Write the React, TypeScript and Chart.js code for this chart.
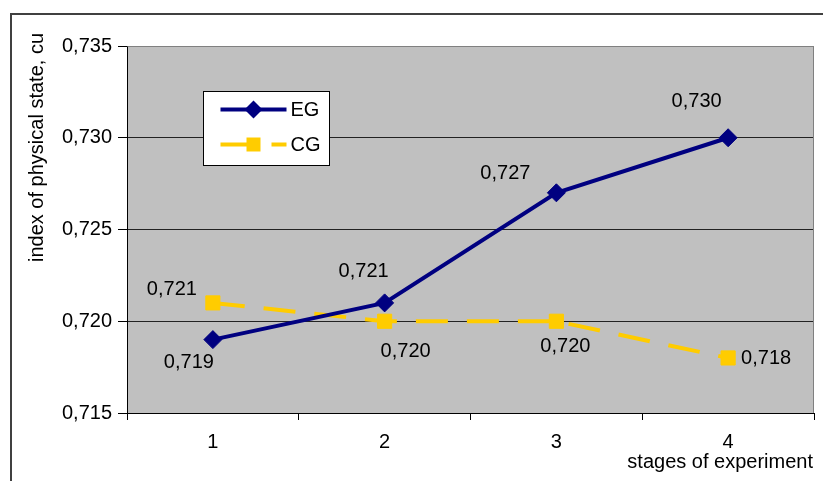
import React, { useEffect, useRef } from "react";
import { Chart, registerables } from "chart.js";

Chart.register(...registerables);

// ---- data ----
const CATEGORIES = ["1", "2", "3", "4"];
const SERIES_NAMES = ["EG", "CG"];
const EG_VALUES = [0.719, 0.721, 0.727, 0.73];
const CG_VALUES = [0.721, 0.72, 0.72, 0.718];
const Y_TICKS = [0.715, 0.72, 0.725, 0.73, 0.735];
const Y_TITLE = "index of physical state, cu";
const X_TITLE = "stages of experiment";

// ---- style ----
const FONT = '"Liberation Sans", Arial, sans-serif';
const FONT_SIZE = 20;
const EG_COLOR = "#000080";
const CG_COLOR = "#FFCC00";
const CG_DASH = [32, 19];
const EG_LABEL_OFFSETS = [[-24, 22], [-21, -32], [-51, -20.5], [-31.5, -37]];
const CG_LABEL_OFFSETS = [[-41, -14], [21, 29], [9, 24], [38, 0]];

const fmt = (v: number) => Number(v).toFixed(3).replace(".", ",");

const decor = {
  id: "decor",
  beforeDraw(chart: any) {
    const { ctx, chartArea: a } = chart;
    ctx.save();
    ctx.fillStyle = "#ffffff";
    ctx.fillRect(0, 0, chart.width, chart.height);
    // outer frame
    ctx.strokeStyle = "#404040";
    ctx.lineWidth = 2;
    ctx.beginPath();
    ctx.moveTo(3, chart.height + 10);
    ctx.lineTo(3, 6);
    ctx.lineTo(chart.width + 10, 6);
    ctx.stroke();
    // plot background
    ctx.fillStyle = "#C0C0C0";
    ctx.fillRect(a.left, a.top, a.right - a.left, a.bottom - a.top);
    ctx.restore();
  },
  beforeDatasetsDraw(chart: any) {
    const { ctx, chartArea: a } = chart;
    ctx.save();
    ctx.strokeStyle = "#808080";
    ctx.lineWidth = 1;
    ctx.beginPath();
    ctx.moveTo(Math.round(a.left) + 0.5, Math.round(a.top) + 0.5);
    ctx.lineTo(Math.round(a.right) - 0.5, Math.round(a.top) + 0.5);
    ctx.lineTo(Math.round(a.right) - 0.5, Math.round(a.bottom));
    ctx.stroke();
    ctx.restore();
  },
  afterDatasetsDraw(chart: any) {
    const { ctx, chartArea: a } = chart;
    ctx.save();
    ctx.font = `${FONT_SIZE}px ${FONT}`;
    ctx.fillStyle = "#000";
    // data labels
    const offs = [EG_LABEL_OFFSETS, CG_LABEL_OFFSETS];
    chart.data.datasets.forEach((ds: any, i: number) => {
      const meta = chart.getDatasetMeta(i);
      meta.data.forEach((pt: any, j: number) => {
        const [dx, dy] = offs[i][j];
        ctx.textAlign = "center";
        ctx.textBaseline = "middle";
        ctx.fillText(fmt(ds.data[j]), pt.x + dx, pt.y + dy + 1);
      });
    });

    // legend
    const bx = Math.round(a.left + 76) + 0.5;
    const by = Math.round(a.top + 45) + 0.5;
    const bw = 126;
    const bh = 74;
    ctx.fillStyle = "#fff";
    ctx.fillRect(bx, by, bw, bh);
    ctx.strokeStyle = "#000";
    ctx.lineWidth = 1;
    ctx.strokeRect(bx, by, bw, bh);
    const rows = [
      { y: by + 18, color: EG_COLOR, dash: [] as number[], style: "diamond" },
      { y: by + 53, color: CG_COLOR, dash: CG_DASH, style: "square" },
    ];
    rows.forEach((r, i) => {
      ctx.strokeStyle = r.color;
      ctx.lineWidth = 4;
      ctx.setLineDash(r.dash);
      ctx.beginPath();
      ctx.moveTo(bx + 17, r.y);
      ctx.lineTo(bx + 83, r.y);
      ctx.stroke();
      ctx.setLineDash([]);
      ctx.fillStyle = r.color;
      const cx = bx + 50;
      ctx.beginPath();
      if (r.style === "diamond") {
        const rr = 9;
        ctx.moveTo(cx - rr, r.y);
        ctx.lineTo(cx, r.y - rr);
        ctx.lineTo(cx + rr, r.y);
        ctx.lineTo(cx, r.y + rr);
        ctx.closePath();
      } else {
        ctx.rect(cx - 7, r.y - 7, 14, 14);
      }
      ctx.fill();
      ctx.fillStyle = "#000";
      ctx.textAlign = "left";
      ctx.textBaseline = "middle";
      ctx.fillText(SERIES_NAMES[i], bx + 87, r.y + 1);
    });

    // axis titles
    ctx.fillStyle = "#000";
    ctx.textAlign = "right";
    ctx.textBaseline = "alphabetic";
    ctx.fillText(X_TITLE, a.right - 1, 459.5);
    ctx.save();
    ctx.translate(35, 25);
    ctx.rotate(-Math.PI / 2);
    ctx.textAlign = "right";
    ctx.textBaseline = "alphabetic";
    ctx.fillText(Y_TITLE, 0, 0);
    ctx.restore();
    ctx.restore();
  },
};

export default function App() {
  const ref = useRef<HTMLCanvasElement | null>(null);
  useEffect(() => {
    if (!ref.current) return;
    const chart = new Chart(ref.current, {
      type: "line",
      data: {
        labels: CATEGORIES,
        datasets: [
          {
            label: SERIES_NAMES[0],
            data: EG_VALUES,
            borderColor: EG_COLOR,
            backgroundColor: EG_COLOR,
            borderWidth: 4,
            pointStyle: "rectRot",
            pointRadius: 9,
            pointBorderWidth: 1,
            pointBackgroundColor: EG_COLOR,
            pointBorderColor: EG_COLOR,
            tension: 0,
            fill: false,
          },
          {
            label: SERIES_NAMES[1],
            data: CG_VALUES,
            borderColor: CG_COLOR,
            backgroundColor: CG_COLOR,
            borderWidth: 4,
            borderDash: CG_DASH,
            pointStyle: "rect",
            pointRadius: 10,
            pointBorderWidth: 1,
            pointBackgroundColor: CG_COLOR,
            pointBorderColor: CG_COLOR,
            tension: 0,
            fill: false,
          },
        ],
      },
      options: {
        responsive: false,
        animation: false,
        layout: { padding: { top: 38, right: 17, left: 0, bottom: 0 } },
        plugins: { legend: { display: false }, tooltip: { enabled: false } },
        scales: {
          x: {
            type: "category",
            offset: true,
            grid: {
              offset: true,
              drawOnChartArea: false,
              drawTicks: true,
              tickLength: 7,
              tickColor: "#000",
              color: "#000",
            },
            border: { color: "#000", width: 1 },
            ticks: {
              color: "#000",
              font: { family: FONT, size: FONT_SIZE },
              padding: 10,
              maxRotation: 0,
            },
            afterFit: (s: any) => {
              s.height = 68;
            },
          },
          y: {
            type: "linear",
            min: 0.715,
            max: 0.735,
            afterBuildTicks: (s: any) => {
              s.ticks = Y_TICKS.map((v) => ({ value: v }));
            },
            grid: {
              color: (c: any) =>
                c.tick && c.tick.value >= 0.7349 ? "#808080" : "#222",
              tickColor: "#000",
              tickLength: 9,
            },
            border: { color: "#000", width: 1 },
            ticks: {
              color: "#000",
              font: { family: FONT, size: FONT_SIZE },
              padding: 6,
              callback: (v: any) => fmt(v),
            },
            afterFit: (s: any) => {
              s.width = 119;
            },
          },
        },
      },
      plugins: [decor],
    });
    return () => chart.destroy();
  }, []);
  return (
    <div style={{ width: 823, height: 473, position: "relative" }}>
      <canvas ref={ref} width={823} height={473} style={{ display: "block" }} />
    </div>
  );
}
